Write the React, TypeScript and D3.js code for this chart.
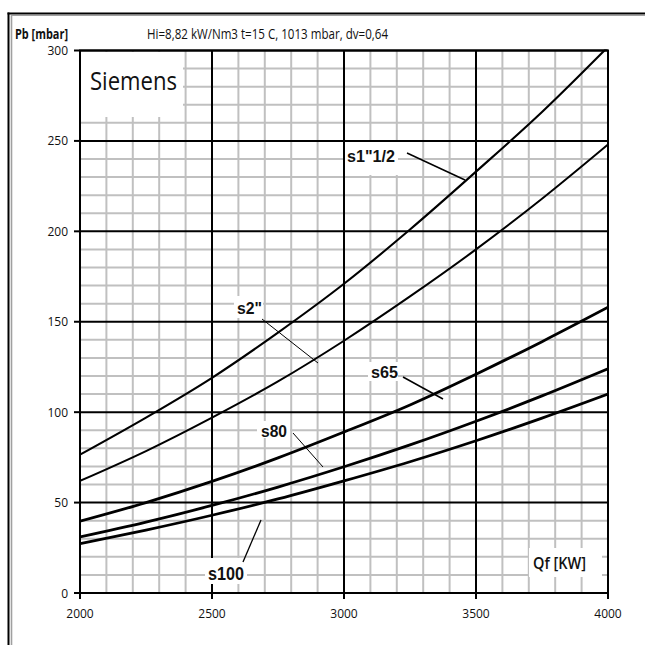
import React from "react";
import * as d3 from "d3";

// Burner pressure Pb [mbar] vs. firing rate Qf [kW] for Siemens gas trains
const flows = [2000, 2250, 2500, 2750, 3000, 3250, 3500, 3750, 4000];
const s1_1_2 = [76.5, 97, 119, 144, 171, 201, 233, 266, 302];
const s2 = [62, 78.5, 97, 117, 139.5, 164, 190, 218, 248];
const s65 = [39.7, 50, 61.7, 74.7, 89, 104, 121, 139, 158];
const s80 = [31, 39.2, 48.4, 58.6, 69.8, 81.9, 95, 109, 124];
const s100 = [27.3, 34.8, 43, 52, 62, 72.6, 84.2, 96.7, 110];

const xTicks = [2000, 2500, 3000, 3500, 4000];
const yTicks = [0, 50, 100, 150, 200, 250, 300];

const series = [
  { name: "s1\"1/2", values: s1_1_2, width: 2.1 },
  { name: "s2\"", values: s2, width: 2 },
  { name: "s65", values: s65, width: 2.8 },
  { name: "s80", values: s80, width: 2.8 },
  { name: "s100", values: s100, width: 2.8 },
];

export default function App() {
  const x = d3.scaleLinear().domain([2000, 4000]).range([80, 608]);
  const y = d3.scaleLinear().domain([0, 300]).range([593, 50.5]);

  const minorX = d3.range(2000, 4001, 100).filter((v) => v % 500 !== 0);
  const minorY = d3.range(0, 301, 10).filter((v) => v % 50 !== 0);

  const line = d3
    .line<number>()
    .x((_, i) => x(flows[i]))
    .y((d) => y(d))
    .curve(d3.curveMonotoneX);

  const calibri = "'Open Sans', 'Liberation Sans', sans-serif";
  const arialBold = "'Liberation Sans', Arial, sans-serif";

  // white patches that sit behind the labels and hide the grid
  const boxes = [
    { x: 81, y: 52, w: 102, h: 65 },
    { x: 345, y: 142, w: 53, h: 33 },
    { x: 234, y: 296, w: 29, h: 22 },
    { x: 368, y: 362, w: 30, h: 19 },
    { x: 257, y: 421, w: 33, h: 17 },
    { x: 205, y: 558, w: 42, h: 26 },
    { x: 529, y: 548, w: 73, h: 29 },
  ];

  return (
    <svg
      width={645}
      height={645}
      style={{ position: "absolute", left: 0, top: 0, background: "#fff" }}
    >
      <rect x={0} y={0} width={645} height={645} fill="#fff" />
      {/* outer frame: black edge with a grey inner edge */}
      <line x1={8.5} y1={12.5} x2={8.5} y2={645} stroke="#000" strokeWidth={2} />
      <line x1={7.5} y1={13.5} x2={645} y2={13.5} stroke="#000" strokeWidth={2} />
      <line x1={11.5} y1={15} x2={11.5} y2={645} stroke="#a0a0a0" strokeWidth={1.6} />
      <line x1={11} y1={15.5} x2={645} y2={15.5} stroke="#a0a0a0" strokeWidth={1} />

      {/* minor grid */}
      {minorX.map((v) => (
        <line key={"mx" + v} x1={x(v)} x2={x(v)} y1={y(300)} y2={y(0)} stroke="#c0c0c0" strokeWidth={2} />
      ))}
      {minorY.map((v) => (
        <line key={"my" + v} y1={y(v)} y2={y(v)} x1={x(2000)} x2={x(4000)} stroke="#c0c0c0" strokeWidth={2} />
      ))}
      {/* major grid */}
      {xTicks.map((v) => (
        <line key={"Mx" + v} x1={x(v)} x2={x(v)} y1={y(300)} y2={y(0)} stroke="#000" strokeWidth={2} />
      ))}
      {yTicks.map((v) => (
        <line key={"My" + v} y1={y(v)} y2={y(v)} x1={x(2000)} x2={x(4000)} stroke="#000" strokeWidth={2} />
      ))}

      {boxes.map((b, i) => (
        <rect key={"b" + i} x={b.x} y={b.y} width={b.w} height={b.h} fill="#fff" />
      ))}

      {/* plot border, axes and ticks */}
      <rect x={x(2000)} y={y(300)} width={x(4000) - x(2000)} height={y(0) - y(300)} fill="none" stroke="#000" strokeWidth={2} />
      {yTicks.map((v) => (
        <g key={"yt" + v}>
          <line x1={x(2000) - 6} x2={x(2000)} y1={y(v)} y2={y(v)} stroke="#000" strokeWidth={2} />
          <text x={68} y={y(v) + 4.5} textAnchor="end" fontFamily={calibri} fontSize={12} fill="#111">
            {v}
          </text>
        </g>
      ))}
      {xTicks.map((v) => (
        <g key={"xt" + v}>
          <line x1={x(v)} x2={x(v)} y1={y(0)} y2={y(0) + 6} stroke="#000" strokeWidth={2} />
          <text x={x(v)} y={y(0) + 24.5} textAnchor="middle" fontFamily={calibri} fontSize={12} fill="#111">
            {v}
          </text>
        </g>
      ))}

      {/* curves */}
      <defs>
        <clipPath id="plotClip">
          <rect x={x(2000)} y={y(300) - 1} width={x(4000) - x(2000)} height={y(0) - y(300) + 1} />
        </clipPath>
      </defs>
      <g clipPath="url(#plotClip)">
        {series.map((s) => (
          <path key={s.name} d={line(s.values) || ""} fill="none" stroke="#000" strokeWidth={s.width} />
        ))}
      </g>

      {/* leader lines */}
      <line x1={407} y1={153} x2={465} y2={180} stroke="#000" strokeWidth={1.5} />
      <line x1={262} y1={319} x2={318} y2={363} stroke="#000" strokeWidth={1} />
      <line x1={403} y1={377} x2={443} y2={399} stroke="#000" strokeWidth={1.5} />
      <line x1={293} y1={433} x2={323} y2={467} stroke="#000" strokeWidth={1} />
      <line x1={243} y1={562} x2={261} y2={520} stroke="#000" strokeWidth={1.3} />

      {/* curve labels */}
      <g fontFamily={arialBold} fontWeight="bold" fill="#111">
        <text x={347} y={162} fontSize={17} textLength={48} lengthAdjust="spacingAndGlyphs">s1"1/2</text>
        <text x={237} y={314} fontSize={17} textLength={25} lengthAdjust="spacingAndGlyphs">s2"</text>
        <text x={371} y={377.5} fontSize={17} textLength={27} lengthAdjust="spacingAndGlyphs">s65</text>
        <text x={261} y={436.5} fontSize={17} textLength={26} lengthAdjust="spacingAndGlyphs">s80</text>
        <text x={208} y={579.5} fontSize={17.5} textLength={36} lengthAdjust="spacingAndGlyphs">s100</text>
      </g>

      <text x={533} y={569} fontFamily={calibri} fontWeight={600} fontSize={16} textLength={53} lengthAdjust="spacingAndGlyphs" fill="#111">
        Qf [KW]
      </text>
      <text x={90} y={90} fontFamily={calibri} fontSize={26} textLength={87} lengthAdjust="spacingAndGlyphs" fill="#111">
        Siemens
      </text>

      {/* header */}
      <text x={15} y={38.5} fontFamily={calibri} fontWeight="bold" fontSize={15} textLength={53} lengthAdjust="spacingAndGlyphs" fill="#111">
        Pb [mbar]
      </text>
      <text x={147} y={38.5} fontFamily={calibri} fontSize={15} textLength={241} lengthAdjust="spacingAndGlyphs" fill="#111">
        Hi=8,82 kW/Nm3  t=15 C, 1013 mbar, dv=0,64
      </text>
    </svg>
  );
}
